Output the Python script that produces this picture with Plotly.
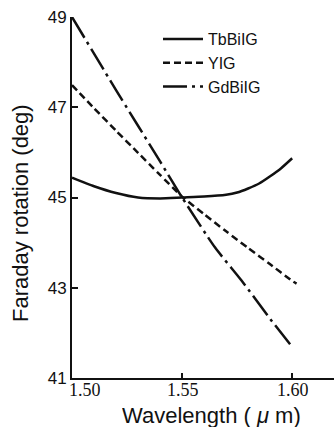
import plotly.graph_objects as go

# Data
wl_tb = [1.50, 1.51, 1.52, 1.53, 1.54, 1.55, 1.56, 1.57, 1.575, 1.58, 1.585, 1.59, 1.595, 1.60]
rot_tb = [45.44, 45.25, 45.10, 45.00, 44.98, 45.00, 45.02, 45.06, 45.11, 45.20, 45.31, 45.47, 45.65, 45.87]

wl_yig = [1.50, 1.51, 1.52, 1.53, 1.54, 1.55, 1.56, 1.57, 1.58, 1.59, 1.60, 1.602]
rot_yig = [47.49, 46.98, 46.48, 45.99, 45.50, 45.02, 44.63, 44.25, 43.88, 43.52, 43.15, 43.09]

wl_gd = [1.50, 1.52, 1.54, 1.55, 1.565, 1.577, 1.59, 1.60]
rot_gd = [49.0, 47.38, 45.8, 45.0, 43.89, 43.16, 42.31, 41.69]

series_names = ["TbBiIG", "YIG", "GdBiIG"]
y_ticks = [41, 43, 45, 47, 49]
x_ticks = [1.50, 1.55, 1.60]
x_tick_labels = ["1.50", "1.55", "1.60"]
x_title = "Wavelength ( <i>\u03bc</i> m)"
y_title = "Faraday rotation (deg)"

L, T, B = 72, 17, 378
W, H = 334, 428
PH = B - T
PW = W - L

fig = go.Figure()
fig.add_trace(go.Scatter(x=wl_tb, y=rot_tb, mode="lines", name=series_names[0],
                         line=dict(color="#111", width=2.5, shape="spline", smoothing=0.6)))
fig.add_trace(go.Scatter(x=wl_yig, y=rot_yig, mode="lines", name=series_names[1],
                         line=dict(color="#111", width=2.5, dash="7px,4px", shape="spline", smoothing=0.6)))
fig.add_trace(go.Scatter(x=wl_gd, y=rot_gd, mode="lines", name=series_names[2],
                         line=dict(color="#111", width=2.5, dash="24px,5px,3px,5px", shape="spline", smoothing=0.6)))

annotations = []
for v, t in zip(x_ticks, x_tick_labels):
    annotations.append(dict(text=t, xref="x", yref="paper", x=v, y=-(390 - B) / PH,
                            xanchor="center", yanchor="middle", showarrow=False, height=18,
                            xshift=13 if v == x_ticks[0] else 1,
                            font=dict(family="Liberation Serif, Times New Roman, serif", size=18, color="#111")))
annotations.append(dict(text=x_title, xref="paper", yref="paper", x=(211 - L) / PW, y=-(415 - B) / PH,
                        xanchor="center", yanchor="middle", showarrow=False, height=24,
                        font=dict(family="Liberation Sans, Arial, sans-serif", size=22, color="#111")))
annotations.append(dict(text=y_title, xref="paper", yref="paper", x=-(L - 21) / PW, y=(B - 213) / PH,
                        xanchor="center", yanchor="middle", showarrow=False, textangle=-90,
                        font=dict(family="Liberation Sans, Arial, sans-serif", size=22, color="#111")))

fig.update_layout(
    width=W, height=H,
    margin=dict(l=L, r=0, t=T, b=H - B),
    paper_bgcolor="white", plot_bgcolor="white",
    showlegend=True,
    legend=dict(x=(158 - L) / PW, y=1 - (22 - T) / PH, xanchor="left", yanchor="top",
                bgcolor="rgba(0,0,0,0)", itemwidth=40,
                font=dict(family="Liberation Sans, Arial, sans-serif", size=16, color="#111"),
                tracegroupgap=0),
    xaxis=dict(range=[1.50, 1.619], tickvals=x_ticks, showticklabels=False,
               showgrid=False, zeroline=False, showline=True, linecolor="#111", linewidth=2,
               ticks="inside", ticklen=5, tickwidth=1.5, tickcolor="#111"),
    yaxis=dict(range=[41, 49], tickvals=y_ticks,
               showgrid=False, zeroline=False, showline=True, linecolor="#111", linewidth=2,
               ticks="inside", ticklen=6, tickwidth=1.5, tickcolor="#111",
               tickfont=dict(family="Liberation Sans, Arial, sans-serif", size=17, color="#111")),
    annotations=annotations,
)

fig.write_html("out.html")
